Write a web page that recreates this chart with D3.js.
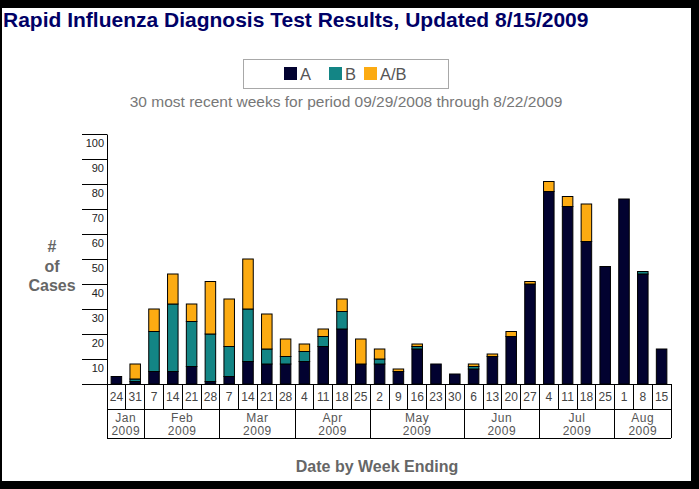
<!DOCTYPE html>
<html>
<head>
<meta charset="utf-8">
<script src="https://cdn.jsdelivr.net/npm/d3@7"></script>
<style>
  body { margin: 0; background: #000; }
  svg { display: block; font-family: "Liberation Sans", Arial, sans-serif; }
</style>
</head>
<body>
<svg id="chart" width="699" height="489"></svg>
<script>
// Week ending day and month, one entry per bar
var weekDays   = [24, 31, 7, 14, 21, 28, 7, 14, 21, 28, 4, 11, 18, 25, 2, 9, 16, 23, 30, 6, 13, 20, 27, 4, 11, 18, 25, 1, 8, 15];
var weekMonths = ["Jan","Jan","Feb","Feb","Feb","Feb","Mar","Mar","Mar","Mar","Apr","Apr","Apr","Apr",
                  "May","May","May","May","May","Jun","Jun","Jun","Jun","Jul","Jul","Jul","Jul","Aug","Aug","Aug"];
var weekYear = "2009";

// Cases by result type
var casesA  = [3, 1, 5, 5, 7, 1, 3, 9, 8, 8, 9, 15, 22, 8, 8, 5, 14, 8, 4, 6, 11, 19, 40, 77, 71, 57, 47, 74, 44, 14];
var casesB  = [0, 1, 16, 27, 18, 19, 12, 21, 6, 3, 4, 4, 7, 0, 2, 0, 1, 0, 0, 1, 0, 0, 0, 0, 0, 0, 0, 0, 1, 0];
var casesAB = [0, 6, 9, 12, 7, 21, 19, 20, 14, 7, 3, 3, 5, 10, 4, 1, 1, 0, 0, 1, 1, 2, 1, 4, 4, 15, 0, 0, 0, 0];

var seriesKeys   = ["A", "B", "AB"];
var seriesLabels = ["A", "B", "A/B"];
var yTicks = [10, 20, 30, 40, 50, 60, 70, 80, 90, 100];

(function() {

var colors = { A: "#020230", B: "#138585", AB: "#fcab12" };

var svg = d3.select("#chart");

// black frame around white panel
svg.append("rect").attr("width", 699).attr("height", 489).attr("fill", "#000");
svg.append("rect").attr("x", 2).attr("y", 8).attr("width", 689).attr("height", 473).attr("fill", "#fff");

// Title
svg.append("text")
    .attr("x", 3).attr("y", 27)
    .style("font-size", "21px").style("font-weight", "bold")
    .attr("fill", "#000066")
    .text("Rapid Influenza Diagnosis Test Results, Updated 8/15/2009");

// Legend
var legend = svg.append("g");
legend.append("rect")
    .attr("x", 243.5).attr("y", 59.5).attr("width", 205).attr("height", 29)
    .attr("fill", "#fff").attr("stroke", "#a8a8a8");
var legendX = [284, 329, 364];
seriesKeys.forEach(function(k, i) {
  legend.append("rect")
      .attr("x", legendX[i]).attr("y", 67).attr("width", 13).attr("height", 13)
      .attr("fill", colors[k]);
  legend.append("text")
      .attr("x", legendX[i] + 16).attr("y", 80)
      .style("font-size", "16.5px").attr("fill", "#555")
      .text(seriesLabels[i]);
});

// Subtitle
svg.append("text")
    .attr("x", 346).attr("y", 107).attr("text-anchor", "middle")
    .style("font-size", "15.5px").attr("fill", "#777")
    .text("30 most recent weeks for period 09/29/2008 through 8/22/2009");

// Scales
var plotLeft = 107, plotRight = 671, plotBase = 384, plotTop = 134;
var idx = d3.range(weekDays.length);
var x = d3.scaleBand().domain(idx).range([plotLeft, plotRight]).paddingInner(0.44).paddingOuter(0.22);
var cell = d3.scaleBand().domain(idx).range([plotLeft, plotRight]);
var y = d3.scaleLinear().domain([0, 100]).range([plotBase, plotTop]);

// Y axis: ticks run left from the axis, labels sit under each tick line
var yAxis = svg.append("g")
    .attr("transform", "translate(" + plotLeft + ",0)")
    .call(d3.axisLeft(y).tickValues(yTicks).tickSizeInner(25).tickSizeOuter(0));
yAxis.select(".domain").attr("stroke", "#000");
yAxis.selectAll(".tick line").attr("stroke", "#000");
yAxis.selectAll(".tick text")
    .attr("x", -3).attr("dy", "12.5")
    .style("font-size", "11px").style("font-family", "'Liberation Sans', Arial, sans-serif")
    .attr("fill", "#222");

// Baseline
svg.append("line")
    .attr("x1", 82).attr("x2", plotRight).attr("y1", plotBase + 0.5).attr("y2", plotBase + 0.5)
    .attr("stroke", "#000");

// Y title
var yTitle = svg.append("text")
    .attr("text-anchor", "middle")
    .style("font-size", "16px").style("font-weight", "bold").attr("fill", "#666");
["#", "of", "Cases"].forEach(function(t, i) {
  yTitle.append("tspan").attr("x", 52).attr("y", 252 + i * 19.5).text(t);
});

// Stacked bars
var rows = idx.map(function(i) { return { i: i, A: casesA[i], B: casesB[i], AB: casesAB[i] }; });
var stacked = d3.stack().keys(seriesKeys)(rows);

svg.append("g").selectAll("g")
  .data(stacked)
  .join("g")
    .attr("fill", function(s) { return colors[s.key]; })
  .selectAll("rect")
  .data(function(s) { return s.filter(function(d) { return d[1] > d[0]; }); })
  .join("rect")
    .attr("x", function(d) { return x(d.data.i); })
    .attr("width", x.bandwidth())
    .attr("y", function(d) { return y(d[1]); })
    .attr("height", function(d) { return y(d[0]) - y(d[1]); })
    .attr("stroke", "#000").attr("stroke-width", 1);

// Date table under the bars
var rowSplit = 409, tableBottom = 438;
var n = weekDays.length;
var edge = function(i) { return i < n ? cell(i) : plotRight; };
var table = svg.append("g").attr("stroke", "#000").attr("shape-rendering", "crispEdges");

table.selectAll("line.week")
  .data(idx.concat([n]))
  .join("line")
    .attr("class", "week")
    .attr("x1", edge).attr("x2", edge)
    .attr("y1", plotBase).attr("y2", rowSplit);

// group weeks by month
var months = [];
weekMonths.forEach(function(m, i) {
  if (!months.length || months[months.length - 1].name !== m) months.push({ name: m, start: i, end: i });
  else months[months.length - 1].end = i;
});

table.selectAll("line.month")
  .data(months.map(function(m) { return m.start; }).concat([n]))
  .join("line")
    .attr("class", "month")
    .attr("x1", edge).attr("x2", edge)
    .attr("y1", rowSplit).attr("y2", tableBottom);

table.append("line").attr("x1", plotLeft).attr("x2", plotRight).attr("y1", rowSplit).attr("y2", rowSplit);
table.append("line").attr("x1", plotLeft).attr("x2", plotRight).attr("y1", tableBottom).attr("y2", tableBottom);

svg.append("g").selectAll("text")
  .data(idx)
  .join("text")
    .attr("x", function(i) { return cell(i) + cell.bandwidth() / 2; })
    .attr("y", 401)
    .attr("text-anchor", "middle")
    .style("font-size", "12px").attr("fill", "#444")
    .text(function(i) { return weekDays[i]; });

var monthMid = function(m) { return (cell(m.start) + cell(m.end) + cell.bandwidth()) / 2; };
var monthText = svg.append("g").selectAll("text")
  .data(months)
  .join("text")
    .attr("text-anchor", "middle")
    .style("font-size", "12px").style("letter-spacing", "0.5px").attr("fill", "#555");
monthText.append("tspan")
    .attr("x", monthMid).attr("y", 422)
    .text(function(m) { return m.name; });
monthText.append("tspan")
    .attr("x", monthMid).attr("y", 435)
    .text(weekYear);

// X title
svg.append("text")
    .attr("x", 377).attr("y", 472).attr("text-anchor", "middle")
    .style("font-size", "16px").style("font-weight", "bold").attr("fill", "#666")
    .text("Date by Week Ending");

})();
</script>
</body>
</html>
